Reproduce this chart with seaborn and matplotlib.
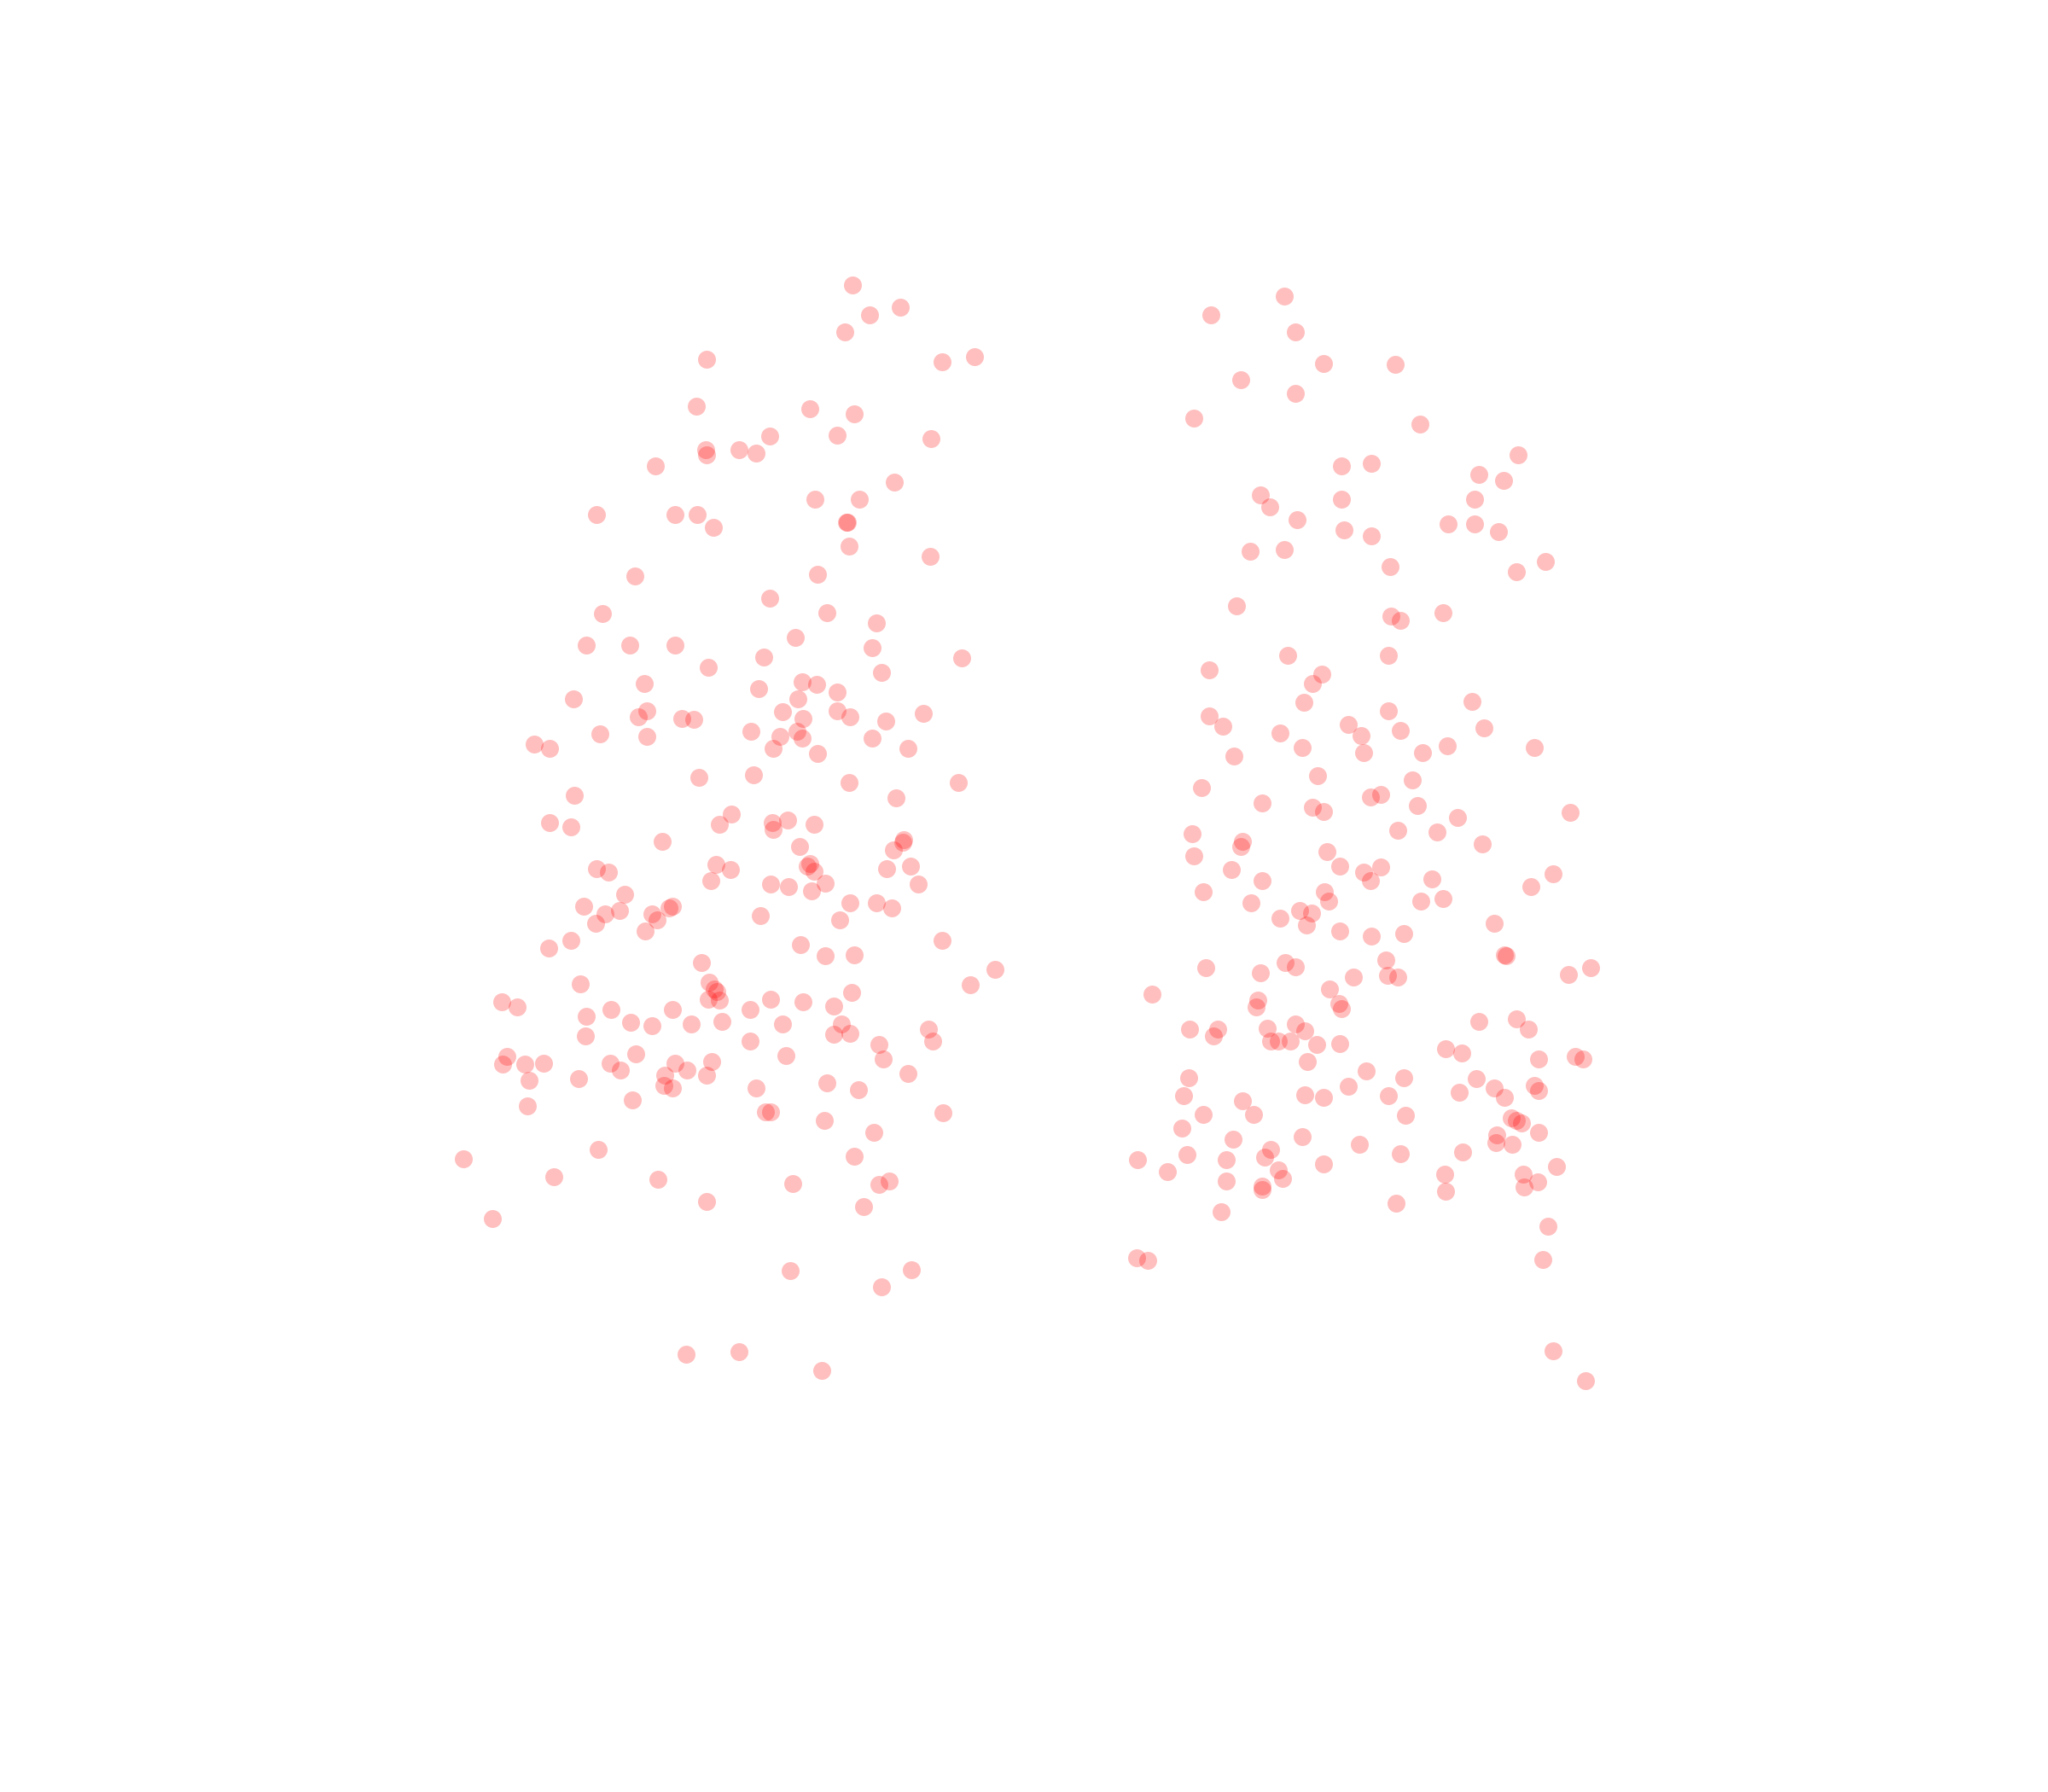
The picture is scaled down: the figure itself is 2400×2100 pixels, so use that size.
import seaborn as sns
import matplotlib.pyplot as plt
import pandas as pd

# readings, in picture units (y grows downward)
left_x = [653, 666, 689, 647, 541, 721, 746, 533, 620, 654, 641, 589, 713, 540, 541, 566, 579, 502, 685, 624,
          658, 457, 517, 534, 546, 649, 648, 650, 712, 486, 626, 589, 461, 633, 671, 609, 449, 482, 517, 668,
          585, 736, 542, 675, 493, 614, 625, 581, 641, 439, 611, 495, 489, 522, 531, 599, 641, 615, 651, 707,
          678, 459, 495, 575, 610, 597, 614, 668, 409, 421, 592, 626, 695, 535, 577, 650, 734, 440, 686, 421,
          437, 560, 551, 591, 603, 592, 623, 507, 692, 691, 612, 684, 457, 466, 548, 559, 618, 620, 623, 679,
          697, 544, 590, 604, 632, 621, 703, 478, 447, 474, 512, 515, 463, 499, 503, 456, 651, 671, 683, 643,
          494, 582, 437, 420, 613, 721, 537, 632, 654, 444, 543, 547, 549, 542, 551, 590, 615, 652, 743, 762,
          384, 396, 468, 515, 574, 638, 449, 483, 499, 529, 553, 599, 644, 638, 651, 711, 714, 448, 574, 673,
          388, 385, 402, 416, 467, 487, 517, 545, 602, 676, 475, 526, 509, 541, 405, 443, 508, 515, 579, 633,
          657, 695, 484, 404, 586, 590, 631, 722, 669, 355, 458, 654, 424, 504, 607, 673, 681, 377, 541, 661,
          605, 698, 675, 525, 566, 629]
left_y = [218, 241, 235, 254, 275, 277, 273, 311, 313, 317, 333, 334, 336, 344, 348, 344, 347, 357, 369, 382,
          382, 394, 394, 394, 404, 400, 400, 418, 426, 441, 440, 458, 470, 469, 477, 488, 494, 494, 494, 496,
          503, 504, 511, 515, 523, 522, 524, 527, 530, 535, 535, 544, 549, 550, 551, 545, 544, 550, 549, 546,
          552, 562, 564, 560, 560, 564, 565, 565, 570, 573, 573, 577, 573, 595, 593, 599, 599, 609, 611, 630,
          633, 623, 631, 630, 628, 635, 631, 644, 643, 645, 648, 651, 665, 668, 662, 666, 663, 661, 667, 665,
          663, 674, 677, 679, 676, 682, 677, 685, 694, 697, 695, 694, 700, 700, 704, 707, 691, 691, 695, 704,
          713, 701, 720, 726, 723, 720, 737, 732, 731, 753, 752, 757, 759, 765, 766, 765, 767, 760, 754, 742,
          767, 771, 773, 773, 773, 770, 778, 783, 785, 784, 782, 784, 784, 792, 791, 788, 797, 793, 797, 800,
          809, 815, 815, 814, 814, 807, 814, 813, 808, 811, 819, 819, 823, 823, 827, 826, 831, 833, 833, 829,
          834, 822, 842, 847, 851, 851, 858, 852, 867, 887, 880, 885, 901, 903, 906, 907, 904, 933, 920, 924,
          973, 972, 985, 1037, 1035, 1049]

right_x = [983, 927, 992, 1013, 1068, 950, 992, 914, 1087, 1027, 1050, 1162, 1132, 1151, 965, 972, 1027, 1129,
           993, 1109, 1129, 1147, 1029, 1050, 957, 983, 1161, 1183, 1064, 947, 1065, 1072, 1105, 986, 1063, 926,
           1012, 1005, 998, 1127, 926, 936, 1032, 1063, 1072, 1136, 980, 1042, 997, 1044, 1089, 1108, 1175, 945,
           1009, 1081, 920, 1049, 1057, 966, 1005, 1013, 1085, 1116, 1202, 913, 1070, 1100, 951, 950, 1135, 914,
           1016, 1026, 943, 1044, 1057, 1049, 1096, 1189, 966, 1172, 921, 1014, 1017, 1088, 1105, 958, 995, 1004,
           980, 1000, 1026, 1050, 1075, 1144, 984, 992, 923, 1061, 1062, 1070, 1152, 1153, 1201, 1218, 965, 1018,
           1036, 882, 963, 962, 1025, 1027, 1132, 1161, 1170, 992, 999, 970, 911, 932, 929, 973, 979, 988, 1008,
           1026, 1001, 1107, 1119, 1178, 1206, 1212, 910, 1046, 1075, 1130, 1144, 1175, 1178, 906, 999, 1013, 1032,
           1063, 1117, 1152, 951, 960, 921, 1076, 1157, 1161, 1165, 905, 997, 944, 1041, 1146, 1145, 1158, 1178,
           973, 968, 909, 939, 871, 1072, 1120, 1013, 894, 979, 982, 939, 1166, 1167, 1177, 1192, 1106, 1107, 966,
           966, 1069, 935, 1185, 870, 879, 1181, 1189, 1214]
right_y = [227, 241, 254, 278, 279, 291, 301, 320, 325, 357, 355, 348, 363, 368, 379, 388, 382, 382, 398, 401,
           401, 407, 406, 410, 422, 421, 438, 430, 434, 464, 472, 475, 469, 502, 502, 513, 516, 523, 538, 537,
           548, 556, 555, 544, 559, 557, 561, 563, 572, 576, 576, 571, 572, 579, 594, 597, 603, 610, 608, 615,
           618, 621, 617, 626, 622, 638, 636, 637, 644, 648, 646, 655, 652, 663, 666, 668, 664, 674, 673, 669,
           674, 679, 683, 683, 690, 690, 688, 691, 697, 699, 703, 708, 713, 717, 715, 707, 737, 740, 741, 735,
           747, 748, 731, 732, 746, 741, 745, 757, 748, 761, 766, 771, 768, 772, 782, 780, 788, 784, 789, 787,
           788, 788, 793, 797, 797, 797, 800, 799, 813, 803, 806, 811, 809, 811, 825, 820, 825, 826, 833, 831,
           835, 839, 838, 840, 832, 839, 836, 840, 843, 853, 853, 854, 856, 858, 860, 864, 870, 872, 876, 869,
           875, 876, 867, 880, 886, 884, 888, 888, 883, 882, 891, 897, 896, 902, 904, 899, 909, 905, 893, 899,
           912, 908, 911, 921, 928, 939, 963, 965, 964, 1034, 1057]

df = pd.DataFrame({
    'x': left_x + right_x,
    'y': left_y + right_y,
    'group': ['a'] * len(left_x) + ['b'] * len(right_x),
})

fig = plt.figure(figsize=(24, 21), dpi=100)
ax = fig.add_axes([0, 0, 1, 1])
sns.scatterplot(data=df, x='x', y='y', color='red', alpha=0.25, s=228,
                linewidth=0, legend=False, ax=ax)
ax.set_xlim(0, 1568)
ax.set_ylim(1372, 0)
ax.axis('off')

plt.savefig('out.png', dpi=100)
plt.close()
